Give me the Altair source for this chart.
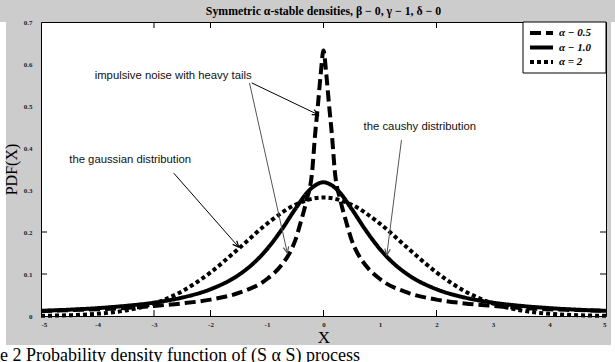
import math
import altair as alt
import pandas as pd

# ---------------- data ----------------
series_labels = ["α − 0.5", "α − 1.0", "α = 2"]

x_a05 = [-5, -4.5, -4, -3.5, -3, -2.5, -2, -1.5, -1, -0.75, -0.6, -0.5, -0.4, -0.3, -0.2, -0.15, -0.1, -0.05, 0,
         0.05, 0.1, 0.15, 0.2, 0.3, 0.4, 0.5, 0.6, 0.75, 1, 1.5, 2, 2.5, 3, 3.5, 4, 4.5, 5]
y_a05 = [0.012, 0.014, 0.016, 0.019, 0.024, 0.030, 0.039, 0.055, 0.088, 0.120, 0.150, 0.180, 0.225, 0.275, 0.345, 0.430, 0.500, 0.575, 0.632,
         0.575, 0.500, 0.430, 0.345, 0.275, 0.225, 0.180, 0.150, 0.120, 0.088, 0.055, 0.039, 0.030, 0.024, 0.019, 0.016, 0.014, 0.012]

x_a10 = [-5, -4.5, -4, -3.5, -3, -2.5, -2, -1.5, -1.25, -1, -0.75, -0.5, -0.25, 0,
         0.25, 0.5, 0.75, 1, 1.25, 1.5, 2, 2.5, 3, 3.5, 4, 4.5, 5]
y_a10 = [0.0122, 0.0150, 0.0187, 0.0241, 0.0318, 0.0439, 0.0637, 0.0979, 0.1242, 0.1592, 0.2037, 0.2546, 0.2996, 0.3183,
         0.2996, 0.2546, 0.2037, 0.1592, 0.1242, 0.0979, 0.0637, 0.0439, 0.0318, 0.0241, 0.0187, 0.0150, 0.0122]

x_a20 = [-5, -4.5, -4, -3.5, -3, -2.5, -2, -1.5, -1, -0.5, 0, 0.5, 1, 1.5, 2, 2.5, 3, 3.5, 4, 4.5, 5]
y_a20 = [0.0005, 0.0018, 0.0052, 0.0132, 0.0297, 0.0591, 0.1038, 0.1607, 0.2197, 0.2650, 0.2821,
         0.2650, 0.2197, 0.1607, 0.1038, 0.0591, 0.0297, 0.0132, 0.0052, 0.0018, 0.0005]

x_tick_values = [-5, -4, -3, -2, -1, 0, 1, 2, 3, 4, 5]
y_tick_values = [0, 0.1, 0.2, 0.3, 0.4, 0.5, 0.6, 0.7]
x_tick_marks = [-3, -2, 0, 2]
y_tick_marks = [0.1, 0.2]

note_text = ["impulsive noise with heavy tails", "the gaussian distribution", "the caushy distribution"]
note_x = [-4.05, -4.50, 0.71]
note_y = [0.571, 0.371, 0.450]

arrow_x1 = [-1.27, -1.31, -2.65, 1.38]
arrow_y1 = [0.555, 0.555, 0.340, 0.419]
arrow_x2 = [-0.09, -0.64, -1.50, 1.12]
arrow_y2 = [0.479, 0.150, 0.164, 0.145]
arrow_color = ["#000000", "#555555", "#000000", "#555555"]

title_text = "Symmetric α-stable densities, β − 0, γ − 1, δ − 0"
caption_text = "e 2 Probability density function of (S α S) process"

# ---------------- layout ----------------
W, H = 565, 294
PAD = {"left": 41, "top": 22, "right": 9, "bottom": 46}
FONT_SERIF = "Liberation Serif"
FONT_SANS = "Liberation Sans"
GRAY = "#cccccc"

curves = pd.concat([
    pd.DataFrame({"x": x_a05, "y": y_a05, "series": series_labels[0]}),
    pd.DataFrame({"x": x_a10, "y": y_a10, "series": series_labels[1]}),
    pd.DataFrame({"x": x_a20, "y": y_a20, "series": series_labels[2]}),
], ignore_index=True)

xs = alt.Scale(domain=[-5, 5], nice=False, zero=False)
ys = alt.Scale(domain=[0, 0.7], nice=False)

AX_X = alt.Axis(
    values=x_tick_values, labelExpr="'' + datum.value", ticks=False, domain=False, grid=False,
    labelFont=FONT_SERIF, labelFontSize=7, labelFontWeight="bold", labelColor="#222222",
    labelPadding=4, title="X", titleFont=FONT_SERIF, titleFontSize=17, titleFontWeight="normal",
    titlePadding=2, titleColor="black", zindex=1)
AX_Y = alt.Axis(
    values=y_tick_values, format="~g", ticks=False, domain=False, grid=False,
    labelFont=FONT_SERIF, labelFontSize=7, labelFontWeight="bold", labelColor="#222222",
    labelPadding=9, title="PDF(X)", titleFont=FONT_SERIF, titleFontSize=16, titleFontWeight="normal",
    titlePadding=4, titleColor="black", zindex=1)


def X(field):
    return alt.X(field, scale=xs, axis=AX_X)


def Y(field):
    return alt.Y(field, scale=ys, axis=AX_Y)


one = pd.DataFrame({"a": [0]})

lines = alt.Chart(curves).mark_line(color="black", strokeWidth=4, interpolate="monotone",
                                    strokeCap="butt").encode(
    x=X("x:Q"), y=Y("y:Q"),
    strokeDash=alt.StrokeDash("series:N", scale=alt.Scale(domain=series_labels,
                                                          range=[[11, 5], [1, 0], [4, 3]]), legend=None),
)

xt = pd.DataFrame({"x": x_tick_marks})
yt = pd.DataFrame({"y": y_tick_marks})
tick_bottom = alt.Chart(xt).mark_rule(color="black", strokeWidth=1).encode(
    x=X("x:Q"), y=alt.value(H), y2=alt.value(H - 6))
tick_top = alt.Chart(xt).mark_rule(color="black", strokeWidth=1).encode(
    x=X("x:Q"), y=alt.value(0), y2=alt.value(6))
tick_left = alt.Chart(yt).mark_rule(color="black", strokeWidth=1).encode(
    y=Y("y:Q"), x=alt.value(0), x2=alt.value(6))
tick_right = alt.Chart(yt).mark_rule(color="black", strokeWidth=1).encode(
    y=Y("y:Q"), x=alt.value(W), x2=alt.value(W - 6))

notes = alt.Chart(pd.DataFrame({"x": note_x, "y": note_y, "t": note_text})).mark_text(
    align="left", baseline="middle", font=FONT_SANS, fontSize=11.3, color="#111111").encode(
    x=X("x:Q"), y=Y("y:Q"), text="t:N")

px_per_x = W / 10.0
px_per_y = H / 0.7
angles = []
for a, b, c, d in zip(arrow_x1, arrow_y1, arrow_x2, arrow_y2):
    dx = (c - a) * px_per_x
    dy = -(d - b) * px_per_y
    angles.append(math.degrees(math.atan2(dx, -dy)) % 360)
arrows_df = pd.DataFrame({"x1": arrow_x1, "y1": arrow_y1, "x2": arrow_x2, "y2": arrow_y2,
                          "c": arrow_color, "ang": angles})
arrow_lines = alt.Chart(arrows_df).mark_rule(strokeWidth=1).encode(
    x=X("x1:Q"), y=Y("y1:Q"), x2="x2:Q", y2="y2:Q",
    color=alt.Color("c:N", scale=None))
arrow_heads = alt.Chart(arrows_df).mark_point(
    shape="M -0.45 1 L 0 0 L 0.45 1", filled=False, strokeWidth=1.2, size=150, opacity=1).encode(
    x=X("x2:Q"), y=Y("y2:Q"),
    angle=alt.Angle("ang:Q", scale=None), color=alt.Color("c:N", scale=None))

# legend (a box inside the top-right corner)
leg_box = alt.Chart(one).mark_rect(color="white", stroke="black", strokeWidth=1).encode(
    x=alt.value(W - 83), x2=alt.value(W), y=alt.value(0), y2=alt.value(51))
leg_layers = []
dash_list = [[11, 5], [1, 0], [4, 3]]
for i, lab in enumerate(series_labels):
    yy = 11 + i * 14.5
    leg_layers.append(alt.Chart(one).mark_rule(color="black", strokeWidth=4, strokeDash=dash_list[i],
                                               strokeCap="butt").encode(
        x=alt.value(W - 76), x2=alt.value(W - 53), y=alt.value(yy)))
    leg_layers.append(alt.Chart(pd.DataFrame({"t": [lab]})).mark_text(
        align="left", baseline="middle", font=FONT_SERIF, fontSize=11, fontStyle="italic",
        fontWeight="bold", color="black").encode(
        x=alt.value(W - 47), y=alt.value(yy), text="t:N"))


# white page margins beside and below the grey figure, and the caption
def white_rect(x1, x2, y1, y2):
    return alt.Chart(one).mark_rect(color="white").encode(
        x=alt.value(x1), x2=alt.value(x2), y=alt.value(y1), y2=alt.value(y2))


strips = [
    white_rect(-41, W + 9, H + 29, H + 46),
    white_rect(-41, -35, 0, H + 46),
    white_rect(W + 5, W + 9, 0, H + 46),
]
caption = alt.Chart(pd.DataFrame({"t": [caption_text]})).mark_text(
    align="left", baseline="alphabetic", font=FONT_SERIF, fontSize=18, color="black").encode(
    x=alt.value(-41), y=alt.value(H + 45), text="t:N")

chart = alt.layer(
    lines, tick_bottom, tick_top, tick_left, tick_right,
    arrow_lines, arrow_heads, notes, leg_box, *leg_layers, *strips, caption
).properties(
    width=W, height=H, padding=PAD, autosize=alt.AutoSizeParams(type="none"),
    background=GRAY,
    title=alt.TitleParams(title_text, font=FONT_SERIF, fontSize=11.8, fontWeight="bold",
                          color="black", anchor="middle", offset=0, frame="group"),
).configure_view(fill="white", stroke="black", strokeWidth=1)

chart.save("out.html", embed_options={"renderer": "svg", "actions": False})
